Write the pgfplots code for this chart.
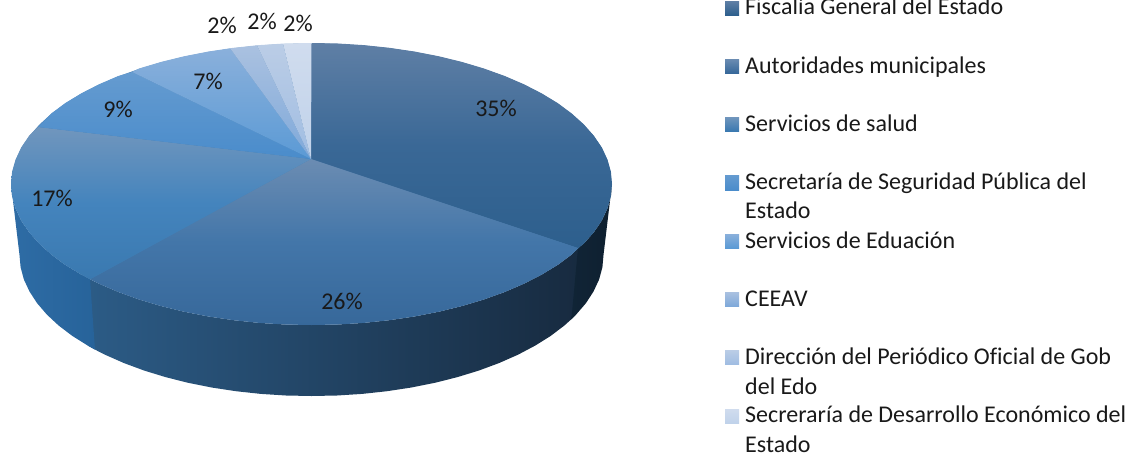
\documentclass[border=0pt]{standalone}
\usepackage{pgfplots}
\pgfplotsset{compat=1.18}
\usepackage{fontspec}
\setmainfont{Carlito}[Ligatures=CommonOff]
\definecolor{sA}{HTML}{5F7FA5}\definecolor{sAm}{HTML}{3A6896}\definecolor{sAb}{HTML}{2D5F8D}
\definecolor{sB}{HTML}{6B8CB2}\definecolor{sBm}{HTML}{4376A9}\definecolor{sBb}{HTML}{37689A}
\definecolor{sC}{HTML}{7196BD}\definecolor{sCm}{HTML}{4484BD}\definecolor{sCb}{HTML}{3A79B0}
\definecolor{sD}{HTML}{659BD0}\definecolor{sDb}{HTML}{4A8CCB}
\definecolor{sE}{HTML}{8AB0DB}\definecolor{sEb}{HTML}{5B9AD5}
\definecolor{sF}{HTML}{AAC1E0}\definecolor{sFb}{HTML}{7FA9DA}
\definecolor{sG}{HTML}{BBCDE6}\definecolor{sGb}{HTML}{A0BDE2}
\definecolor{sH}{HTML}{D0DCEE}\definecolor{sHb}{HTML}{C0D2EA}
\definecolor{wA}{HTML}{2E6CA5}\definecolor{wAb}{HTML}{27639A}
\definecolor{wB}{HTML}{2C5C87}\definecolor{wBm}{HTML}{1D3551}\definecolor{wBb}{HTML}{172A3F}
\definecolor{wC}{HTML}{102436}\definecolor{wCb}{HTML}{0F2030}
\definecolor{base}{HTML}{4A7FB0}
\begin{document}
\begin{tikzpicture}
\path[use as bounding box] (0,0) rectangle (1140pt,458pt);
\clip (0,0) rectangle (1140pt,458pt);
\begin{axis}[
  at={(0,0)},anchor=south west,
  scale only axis,width=1140pt,height=458pt,
  xmin=0,xmax=1140,ymin=0,ymax=458,y dir=reverse,
  hide axis,clip=false,no markers,
  every axis plot/.append style={draw=none,forget plot},
]
% side walls (the 26% wall runs a little under its neighbours)
\addplot[left color=wB,middle color=wBm,right color=wBb] coordinates {
(81.3,274.6)(90,279.3)(99,283.7)(118.3,292)(139.1,299.5)(161.2,306.1)(184.5,311.8)(208.7,316.5)(233.7,320.2)(259.3,322.9)(285.3,324.5)(311.5,325)(337.7,324.5)(363.7,322.9)(389.3,320.2)(414.3,316.5)(438.5,311.8)(461.8,306.1)(483.9,299.5)(504.7,292)(524,283.7)(541.7,274.6)(557.7,264.9)(571.7,254.5)(578,248)(583.8,243.6)
(576.1,314.6)(571.4,319.2)(564.4,325.5)(550.7,335.9)(535.2,345.6)(518,354.7)(499.2,363)(479,370.5)(457.5,377.1)(434.9,382.8)(411.4,387.5)(387.1,391.2)(362.2,393.9)(337,395.5)(311.5,396)(286,395.5)(260.8,393.9)(235.9,391.2)(211.6,387.5)(188.1,382.8)(165.5,377.1)(144,370.5)(123.8,363)(105,354.7)(95,349.6)(87.8,345.6)} -- cycle;
\addplot[left color=wA,right color=wAb] coordinates {
(11,184)(12.1,196.3)(15.6,208.5)(21.2,220.5)(29.1,232.2)(39.2,243.6)(51.3,254.5)(65.3,264.9)(81.3,274.6)(90,279.3)
(95,349.6)(87.8,345.6)(72.3,335.9)(58.6,325.5)(46.9,314.6)(37.1,303.2)(29.5,291.5)(23.9,279.5)(20.6,267.3)(19.5,255)} -- cycle;
\addplot[left color=wC,right color=wCb] coordinates {
(578,248)(583.8,243.6)(593.9,232.2)(601.8,220.5)(607.4,208.5)(610.9,196.3)(612,184)
(603.5,255)(602.4,267.3)(599.1,279.5)(593.5,291.5)(585.9,303.2)(576.1,314.6)(571.4,319.2)} -- cycle;
% a plain disc behind the top faces hides hairlines between them
\addplot[fill=base] coordinates {
(311.5,43.4)(337.7,43.9)(363.7,45.5)(389.3,48.2)(414.3,51.9)(438.5,56.6)(461.8,62.3)(483.9,68.9)(504.7,76.4)(524,84.7)(541.7,93.8)(557.7,103.5)(571.7,113.9)(583.8,124.8)(593.9,136.2)(601.8,147.9)(607.4,159.9)(610.5,171.7)(611.6,184)(610.5,196.3)(607,208.5)(601.4,220.5)(593.5,232.2)(583.4,243.6)(571.3,254.5)(557.3,264.9)(541.3,274.6)(524,283.3)(504.7,291.6)(483.9,299.1)(461.8,305.7)(438.5,311.4)(414.3,316.1)(389.3,319.8)(363.7,322.5)(337.7,324.1)(311.5,324.6)(285.3,324.1)(259.3,322.5)(233.7,319.8)(208.7,316.1)(184.5,311.4)(161.2,305.7)(139.1,299.1)(118.3,291.6)(99,283.3)(81.7,274.6)(65.7,264.9)(51.7,254.5)(39.6,243.6)(29.5,232.2)(21.6,220.5)(16,208.5)(12.5,196.3)(11.4,184)(12.5,171.7)(16,159.5)(21.6,147.5)(29.5,135.8)(39.6,124.4)(51.7,113.5)(65.7,103.1)(81.7,93.4)(99,84.7)(118.3,76.4)(139.1,68.9)(161.2,62.3)(184.5,56.6)(208.7,51.9)(233.7,48.2)(259.3,45.5)(285.3,43.9)} -- cycle;
% top faces
\addplot[top color=sA,bottom color=sAb,middle color=sAm] coordinates {
(311,159)(311.5,43)(337.7,43.5)(363.7,45.1)(389.3,47.8)(414.3,51.5)(438.5,56.2)(461.8,61.9)(483.9,68.5)(504.7,76)(524,84.3)(541.7,93.4)(557.7,103.1)(571.7,113.5)(583.8,124.4)(593.9,135.8)(601.8,147.5)(607.4,159.5)(610.9,171.7)(612,184)(610.9,196.3)(607.4,208.5)(601.8,220.5)(593.9,232.2)(583.8,243.6)(578,248)} -- cycle;
\addplot[top color=sB,bottom color=sBb,middle color=sBm] coordinates {
(311,159)(578,248)(571.7,254.5)(557.7,264.9)(541.7,274.6)(524,283.7)(504.7,292)(483.9,299.5)(461.8,306.1)(438.5,311.8)(414.3,316.5)(389.3,320.2)(363.7,322.9)(337.7,324.5)(311.5,325)(285.3,324.5)(259.3,322.9)(233.7,320.2)(208.7,316.5)(184.5,311.8)(161.2,306.1)(139.1,299.5)(118.3,292)(99,283.7)(90,279.3)} -- cycle;
\addplot[top color=sC,bottom color=sCb,middle color=sCm] coordinates {
(311,159)(90,279.3)(81.3,274.6)(65.3,264.9)(51.3,254.5)(39.2,243.6)(29.1,232.2)(21.2,220.5)(15.6,208.5)(12.1,196.3)(11,184)(12.1,171.7)(15.6,159.5)(21.2,147.5)(29.1,135.8)(38,127)} -- cycle;
\addplot[top color=sD,bottom color=sDb] coordinates {
(311,159)(38,127)(51.3,113.5)(65.3,103.1)(81.3,93.4)(99,84.3)(118.3,76)(132,72)} -- cycle;
\addplot[top color=sE,bottom color=sEb] coordinates {
(311,159)(132,72)(139.1,68.5)(161.2,61.9)(184.5,56.2)(208.7,51.5)(230,48.3)} -- cycle;
\addplot[top color=sF,bottom color=sFb] coordinates {
(311,159)(230,48.3)(233.7,47.8)(257,45.3)} -- cycle;
\addplot[top color=sG,bottom color=sGb] coordinates {
(311,159)(257,45.3)(259.3,45.1)(283,43.6)} -- cycle;
\addplot[top color=sH,bottom color=sHb] coordinates {
(311,159)(283,43.6)(285.3,43.5)(311.5,43)} -- cycle;
% legend swatches
\addplot[top color=sA,bottom color=sAb] coordinates {(725,1)(739,1)(739,15)(725,15)} -- cycle;
\addplot[top color=sB,bottom color=sBb] coordinates {(725,59)(739,59)(739,73)(725,73)} -- cycle;
\addplot[top color=sC,bottom color=sCb] coordinates {(725,117)(739,117)(739,131)(725,131)} -- cycle;
\addplot[top color=sD,bottom color=sDb] coordinates {(725,175)(739,175)(739,190)(725,190)} -- cycle;
\addplot[top color=sE,bottom color=sEb] coordinates {(725,234)(739,234)(739,248)(725,248)} -- cycle;
\addplot[top color=sF,bottom color=sFb] coordinates {(725,292)(739,292)(739,306)(725,306)} -- cycle;
\addplot[top color=sG,bottom color=sGb] coordinates {(725,350)(739,350)(739,364)(725,364)} -- cycle;
\addplot[top color=sH,bottom color=sHb] coordinates {(725,409)(739,409)(739,423)(725,423)} -- cycle;
% texts
\def\ls{\fontsize{24}{28}\selectfont}
\tikzset{leg/.style={anchor=base west,inner sep=0pt,font=\ls,text=black!90},
 pct/.style={anchor=center,inner sep=0pt,font=\ls,text=black!90}}
\node[leg] at (axis cs:745,14.5) {Fiscalía General del Estado};
\node[leg] at (axis cs:745,73.2) {Autoridades municipales};
\node[leg] at (axis cs:745,131.2) {Servicios de salud};
\node[leg] at (axis cs:745,189.5) {Secretaría de Seguridad Pública del};
\node[leg] at (axis cs:745,218.8) {Estado};
\node[leg] at (axis cs:745,248.5) {Servicios de Eduación};
\node[leg] at (axis cs:745,306.8) {CEEAV};
\node[leg] at (axis cs:745,364.5) {Dirección del Periódico Oficial de Gob};
\node[leg] at (axis cs:745,394.2) {del Edo};
\node[leg] at (axis cs:745,422.8) {Secreraría de Desarrollo Económico del};
\node[leg] at (axis cs:745,452.5) {Estado};
\node[pct] at (axis cs:496,108) {35\%};
\node[pct] at (axis cs:342,301) {26\%};
\node[pct] at (axis cs:52,198) {17\%};
\node[pct] at (axis cs:118,109) {9\%};
\node[pct] at (axis cs:208,81) {7\%};
\node[pct] at (axis cs:222,25) {2\%};
\node[pct] at (axis cs:262,21) {2\%};
\node[pct] at (axis cs:298,23) {2\%};
\end{axis}
\end{tikzpicture}
\end{document}
